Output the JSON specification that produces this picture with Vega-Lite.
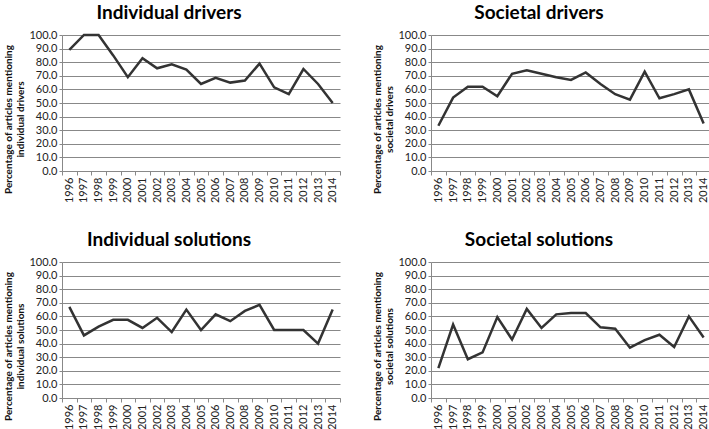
{
  "$schema": "https://vega.github.io/schema/vega-lite/v6.json",
  "background": "white",
  "autosize": {"type": "pad"},
  "padding": {"left": 3, "top": 4, "right": 2, "bottom": 0},
  "config": {
    "view": {"stroke": null},
    "font": "Lato",
    "title": {"fontSize": 19, "fontWeight": "bold", "font": "Lato", "color": "#000", "offset": 6, "dx": -32},
    "axis": {"labelFont": "Lato", "labelFontSize": 11, "labelColor": "#222", "titleFont": "Lato", "titleFontSize": 10, "titleFontWeight": "bold", "titleColor": "#111", "domainColor": "#888", "tickColor": "#888"},
    "axisY": {"titleY": 84, "titlePadding": 3},
    "concat": {"spacing": 31}
  },
  "data": {"values": [
    {"panel": "ID", "year": "1996", "value": 89}, {"panel": "ID", "year": "1997", "value": 100}, {"panel": "ID", "year": "1998", "value": 100}, {"panel": "ID", "year": "1999", "value": 85}, {"panel": "ID", "year": "2000", "value": 69}, {"panel": "ID", "year": "2001", "value": 83}, {"panel": "ID", "year": "2002", "value": 75.5}, {"panel": "ID", "year": "2003", "value": 78.5}, {"panel": "ID", "year": "2004", "value": 74.5}, {"panel": "ID", "year": "2005", "value": 64}, {"panel": "ID", "year": "2006", "value": 68.5}, {"panel": "ID", "year": "2007", "value": 65}, {"panel": "ID", "year": "2008", "value": 66.5}, {"panel": "ID", "year": "2009", "value": 79}, {"panel": "ID", "year": "2010", "value": 61.5}, {"panel": "ID", "year": "2011", "value": 56.5}, {"panel": "ID", "year": "2012", "value": 75}, {"panel": "ID", "year": "2013", "value": 64}, {"panel": "ID", "year": "2014", "value": 50},
    {"panel": "SD", "year": "1996", "value": 33.3}, {"panel": "SD", "year": "1997", "value": 54}, {"panel": "SD", "year": "1998", "value": 62}, {"panel": "SD", "year": "1999", "value": 62}, {"panel": "SD", "year": "2000", "value": 55}, {"panel": "SD", "year": "2001", "value": 71.5}, {"panel": "SD", "year": "2002", "value": 74}, {"panel": "SD", "year": "2003", "value": 71.5}, {"panel": "SD", "year": "2004", "value": 69}, {"panel": "SD", "year": "2005", "value": 67}, {"panel": "SD", "year": "2006", "value": 72.5}, {"panel": "SD", "year": "2007", "value": 64}, {"panel": "SD", "year": "2008", "value": 56.5}, {"panel": "SD", "year": "2009", "value": 52.5}, {"panel": "SD", "year": "2010", "value": 73}, {"panel": "SD", "year": "2011", "value": 53.5}, {"panel": "SD", "year": "2012", "value": 56.5}, {"panel": "SD", "year": "2013", "value": 60}, {"panel": "SD", "year": "2014", "value": 35},
    {"panel": "IS", "year": "1996", "value": 67}, {"panel": "IS", "year": "1997", "value": 46}, {"panel": "IS", "year": "1998", "value": 52.5}, {"panel": "IS", "year": "1999", "value": 57.5}, {"panel": "IS", "year": "2000", "value": 57.5}, {"panel": "IS", "year": "2001", "value": 51.5}, {"panel": "IS", "year": "2002", "value": 59}, {"panel": "IS", "year": "2003", "value": 48.5}, {"panel": "IS", "year": "2004", "value": 65}, {"panel": "IS", "year": "2005", "value": 50}, {"panel": "IS", "year": "2006", "value": 61.5}, {"panel": "IS", "year": "2007", "value": 56.5}, {"panel": "IS", "year": "2008", "value": 64}, {"panel": "IS", "year": "2009", "value": 68.5}, {"panel": "IS", "year": "2010", "value": 50}, {"panel": "IS", "year": "2011", "value": 50}, {"panel": "IS", "year": "2012", "value": 50}, {"panel": "IS", "year": "2013", "value": 40}, {"panel": "IS", "year": "2014", "value": 65},
    {"panel": "SS", "year": "1996", "value": 22}, {"panel": "SS", "year": "1997", "value": 54}, {"panel": "SS", "year": "1998", "value": 28.5}, {"panel": "SS", "year": "1999", "value": 33.5}, {"panel": "SS", "year": "2000", "value": 59.5}, {"panel": "SS", "year": "2001", "value": 43}, {"panel": "SS", "year": "2002", "value": 65.5}, {"panel": "SS", "year": "2003", "value": 51.5}, {"panel": "SS", "year": "2004", "value": 61.5}, {"panel": "SS", "year": "2005", "value": 62.5}, {"panel": "SS", "year": "2006", "value": 62.5}, {"panel": "SS", "year": "2007", "value": 52}, {"panel": "SS", "year": "2008", "value": 51}, {"panel": "SS", "year": "2009", "value": 37}, {"panel": "SS", "year": "2010", "value": 42.5}, {"panel": "SS", "year": "2011", "value": 46.5}, {"panel": "SS", "year": "2012", "value": 37.5}, {"panel": "SS", "year": "2013", "value": 60}, {"panel": "SS", "year": "2014", "value": 44.5}
  ]},
  "spacing": 28,
  "vconcat": [
    {"hconcat": [
      {"title": "Individual drivers", "width": 278, "height": 136, "transform": [{"filter": "datum.panel === 'ID'"}], "mark": {"type": "line", "color": "#333", "strokeWidth": 2.5},
       "encoding": {"x": {"field": "year", "type": "ordinal", "title": null, "axis": {"labelAngle": -90, "tickBand": "extent", "tickSize": 4, "labelPadding": 2}},
                    "y": {"field": "value", "type": "quantitative", "scale": {"domain": [0, 100]}, "title": ["Percentage of articles mentioning", "individual drivers"], "axis": {"values": [0,10,20,30,40,50,60,70,80,90,100], "format": ".1f", "gridColor": "#888", "tickSize": 3}}}},
      {"title": "Societal drivers", "width": 280, "height": 136, "transform": [{"filter": "datum.panel === 'SD'"}], "mark": {"type": "line", "color": "#333", "strokeWidth": 2.5},
       "encoding": {"x": {"field": "year", "type": "ordinal", "title": null, "axis": {"labelAngle": -90, "tickBand": "extent", "tickSize": 4, "labelPadding": 2}},
                    "y": {"field": "value", "type": "quantitative", "scale": {"domain": [0, 100]}, "title": ["Percentage of articles mentioning", "societal drivers"], "axis": {"values": [0,10,20,30,40,50,60,70,80,90,100], "format": ".1f", "gridColor": "#888", "tickSize": 3}}}}
    ]},
    {"hconcat": [
      {"title": "Individual solutions", "width": 278, "height": 136, "transform": [{"filter": "datum.panel === 'IS'"}], "mark": {"type": "line", "color": "#333", "strokeWidth": 2.5},
       "encoding": {"x": {"field": "year", "type": "ordinal", "title": null, "axis": {"labelAngle": -90, "tickBand": "extent", "tickSize": 4, "labelPadding": 2}},
                    "y": {"field": "value", "type": "quantitative", "scale": {"domain": [0, 100]}, "title": ["Percentage of articles mentioning", "individual solutions"], "axis": {"values": [0,10,20,30,40,50,60,70,80,90,100], "format": ".1f", "gridColor": "#888", "tickSize": 3}}}},
      {"title": "Societal solutions", "width": 280, "height": 136, "transform": [{"filter": "datum.panel === 'SS'"}], "mark": {"type": "line", "color": "#333", "strokeWidth": 2.5},
       "encoding": {"x": {"field": "year", "type": "ordinal", "title": null, "axis": {"labelAngle": -90, "tickBand": "extent", "tickSize": 4, "labelPadding": 2}},
                    "y": {"field": "value", "type": "quantitative", "scale": {"domain": [0, 100]}, "title": ["Percentage of articles mentioning", "societal solutions"], "axis": {"values": [0,10,20,30,40,50,60,70,80,90,100], "format": ".1f", "gridColor": "#888", "tickSize": 3}}}}
    ]}
  ]
}
